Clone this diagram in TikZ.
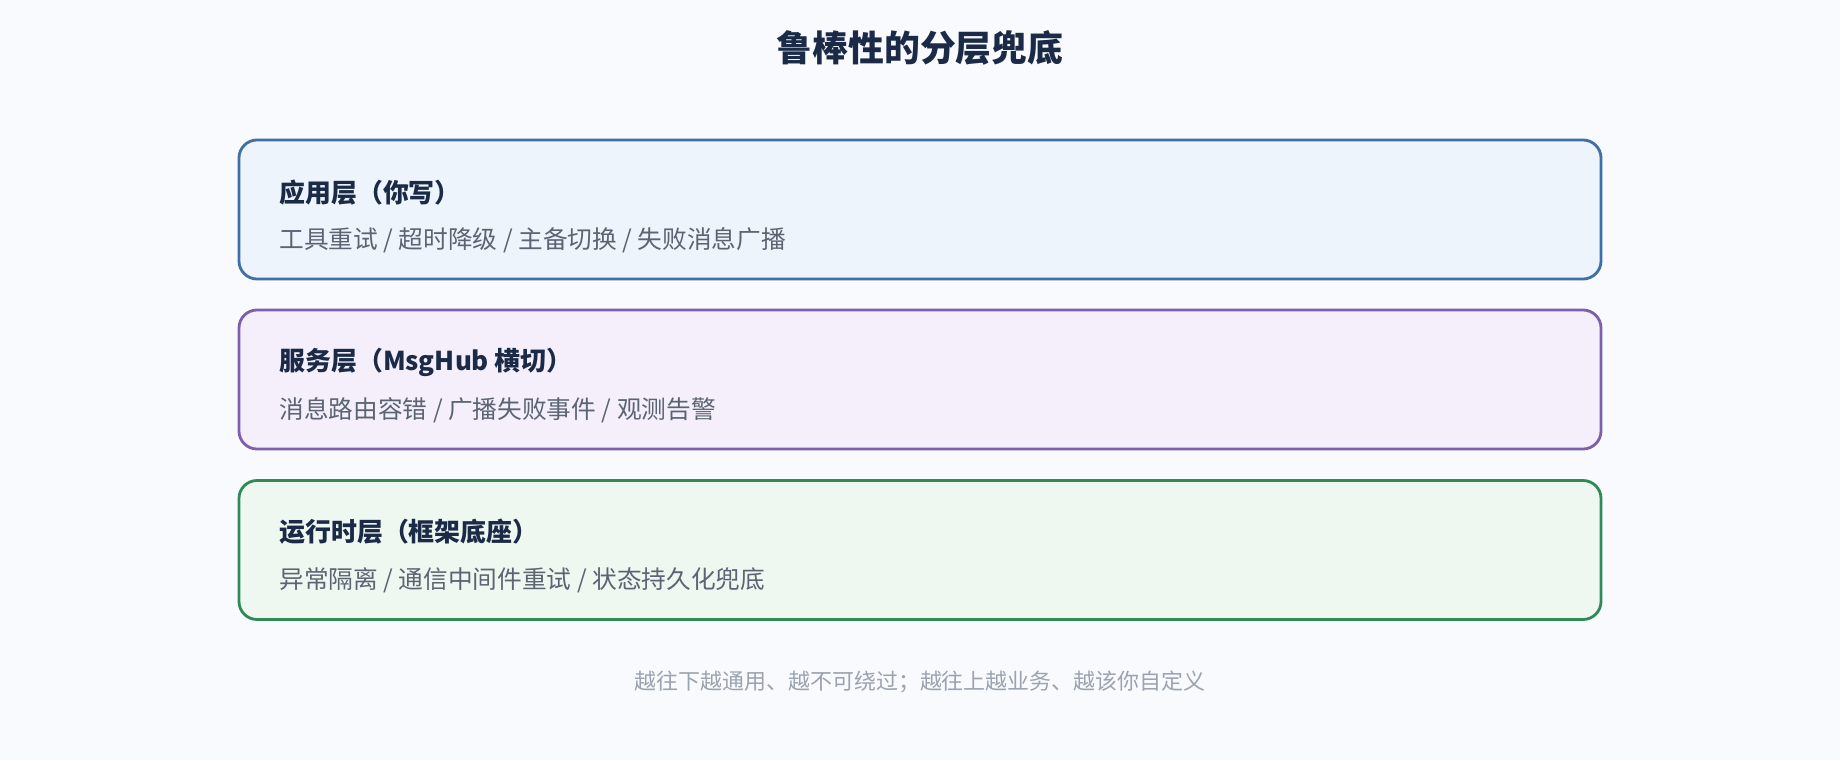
\documentclass[tikz,border=0pt]{standalone}
\usepackage{fontspec}
\setmainfont{Noto Sans CJK SC}
\usepackage{xcolor}
\usepackage{tikz}

\definecolor{bgpage}{HTML}{F8FAFD}
\definecolor{ink}{HTML}{1B2A47}
\definecolor{subink}{HTML}{5B6472}
\definecolor{noteink}{HTML}{9AA3AF}
\definecolor{appline}{HTML}{3F6FA6}
\definecolor{appfill}{HTML}{EEF4FB}
\definecolor{svcline}{HTML}{7C60AD}
\definecolor{svcfill}{HTML}{F4EFFA}
\definecolor{rtline}{HTML}{2F8A57}
\definecolor{rtfill}{HTML}{EEF8F0}

\tikzset{
  layerbox/.style={draw, line width=1.6pt, rounded corners=0.36cm, minimum width=27.24cm, minimum height=2.78cm, inner sep=0pt},
  layertitle/.style={anchor=west, inner sep=0pt, text=ink, font=\fontsize{14.75}{17}\selectfont\bfseries},
  layerdesc/.style={anchor=west, inner sep=0pt, text=subink, font=\fontsize{14.05}{17}\selectfont}
}

\begin{document}
\begin{tikzpicture}
                        \fill[bgpage] (0,0) rectangle (36.8,15.2);
                        \useasboundingbox (0,0) rectangle (36.8,15.2);
                        \node[inner sep=0pt, text=ink, font=\fontsize{20.4}{24}\selectfont\bfseries] (title) at (18.4,14.25) {鲁棒性的分层兜底};
                        \node[layerbox, draw=appline, fill=appfill] (app) at (18.4,11.01) {};
                        \node[layerbox, draw=svcline, fill=svcfill] (svc) at (18.4,7.61) {};
                        \node[layerbox, draw=rtline, fill=rtfill] (rt) at (18.4,4.2) {};
                        \node[layertitle] (apptitle) at (5.58,11.34) {应用层（你写）};
                        \node[layerdesc] (appdesc) at (5.58,10.4) {工具重试 / 超时降级 / 主备切换 / 失败消息广播};
                        \node[layertitle] (svctitle) at (5.58,7.96) {服务层（MsgHub 横切）};
                        \node[layerdesc] (svcdesc) at (5.58,7.0) {消息路由容错 / 广播失败事件 / 观测告警};
                        \node[layertitle] (rttitle) at (5.58,4.56) {运行时层（框架底座）};
                        \node[layerdesc] (rtdesc) at (5.58,3.6) {异常隔离 / 通信中间件重试 / 状态持久化兜底};
                        \node[inner sep=0pt, text=noteink, font=\fontsize{12.5}{15}\selectfont] (note) at (18.4,1.56) {越往下越通用、越不可绕过；越往上越业务、越该你自定义};
                    \end{tikzpicture}
\end{document}
